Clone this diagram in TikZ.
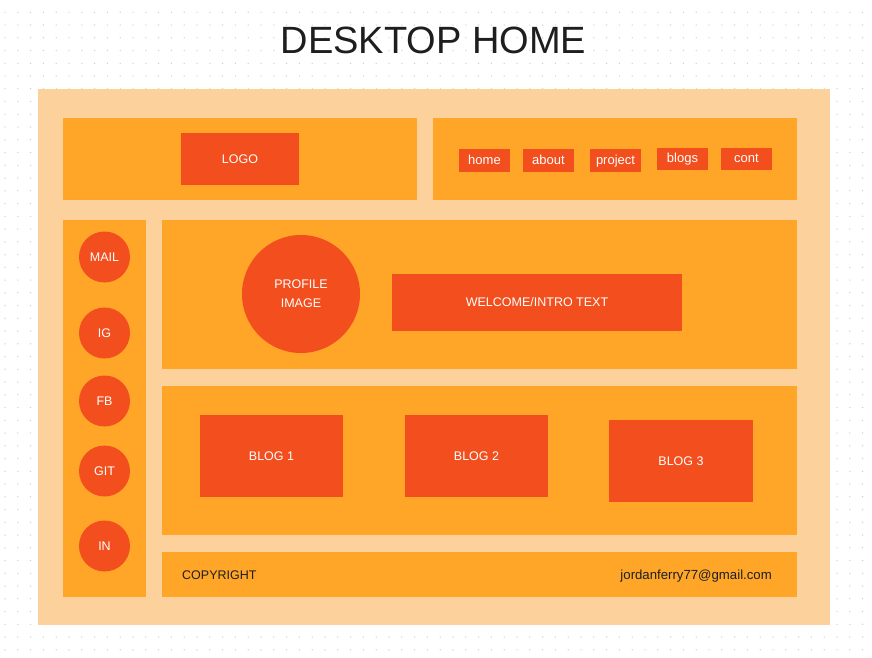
\documentclass[tikz,border=0pt]{standalone}
\usepackage{fontspec}
\setmainfont{Liberation Sans}
\definecolor{peach}{HTML}{FCD19C}
\definecolor{orng}{HTML}{FFA629}
\definecolor{redo}{HTML}{F24E1E}
\definecolor{ink}{HTML}{1E1E1E}
\definecolor{dotc}{HTML}{CDCDCD}
\tikzset{
  panel/.style={fill=orng, draw=none, rectangle, inner sep=0pt},
  redbox/.style={fill=redo, draw=none, rectangle, inner sep=0pt, text=white, font=\fontsize{12.5}{15}\selectfont},
  navbox/.style={redbox, minimum width=51pt, minimum height=22.5pt, font=\fontsize{13}{15}\selectfont,
                 text height=9.5pt, text depth=2.5pt},
  social/.style={fill=redo, draw=none, circle, inner sep=0pt, minimum size=51pt, text=white, font=\fontsize{12.5}{15}\selectfont},
  darktext/.style={text=ink, inner sep=0pt, font=\fontsize{12.5}{15}\selectfont}
}
\begin{document}
\begin{tikzpicture}[x=1pt,y=-1pt]
\useasboundingbox (0,0) rectangle (872,658);
\fill[white] (0,0) rectangle (872,658);
% dot grid
\foreach \i in {0,...,67}{
  \foreach \j in {0,...,51}{
    \fill[dotc] ({5+12.8*\i},{12.3+12.75*\j}) circle (0.7);
  }
}
% title
\node[text=ink, font=\fontsize{38}{46}\selectfont, inner sep=0pt] (title) at (433.5,40) {DESKTOP HOME};
% outer frame
\node[fill=peach, rectangle, inner sep=0pt, minimum width=792pt, minimum height=536pt] (frame) at (434,357) {};
% header
\node[panel, minimum width=354pt, minimum height=82pt] (headl) at (240,159) {};
\node[panel, minimum width=364pt, minimum height=82pt] (headr) at (615,159) {};
\node[redbox, minimum width=118pt, minimum height=52pt] (logo) at (240,159) {LOGO};
\node[navbox] (home) at (484.5,160.5) {home};
\node[navbox] (about) at (548.5,160.5) {about};
\node[navbox] (project) at (615.5,160.5) {project};
\node[navbox] (blogs) at (682.5,159) {blogs};
\node[navbox] (cont) at (746.5,159) {cont};
% sidebar
\node[panel, minimum width=83pt, minimum height=377pt] (side) at (104.5,408.5) {};
\node[social] (mail) at (104.5,257) {MAIL};
\node[social] (ig) at (104.5,333) {IG};
\node[social] (fb) at (104.5,401) {FB};
\node[social] (git) at (104.5,471) {GIT};
\node[social] (in) at (104.5,546) {IN};
% profile panel
\node[panel, minimum width=635pt, minimum height=149pt] (prof) at (479.5,294.5) {};
\node[fill=redo, circle, inner sep=0pt, minimum size=118pt, text=white, align=center,
      font=\fontsize{12.5}{19}\selectfont] (pimg) at (301,294) {PROFILE\\IMAGE};
\node[redbox, minimum width=290pt, minimum height=57pt] (welcome) at (537,302.5) {WELCOME/INTRO TEXT};
% blog panel
\node[panel, minimum width=635pt, minimum height=149pt] (blogp) at (479.5,460.5) {};
\node[redbox, minimum width=143pt, minimum height=82pt] (b1) at (271.5,456) {BLOG 1};
\node[redbox, minimum width=143pt, minimum height=82pt] (b2) at (476.5,456) {BLOG 2};
\node[redbox, minimum width=144pt, minimum height=82pt] (b3) at (681,461) {BLOG 3};
% footer
\node[panel, minimum width=635pt, minimum height=45pt] (foot) at (479.5,574.5) {};
\node[darktext, anchor=base west] (copy) at (182,579) {COPYRIGHT};
\node[darktext, anchor=base east, font=\fontsize{13.2}{15}\selectfont] (mailaddr) at (772,579) {jordanferry77@gmail.com};
\end{tikzpicture}
\end{document}
